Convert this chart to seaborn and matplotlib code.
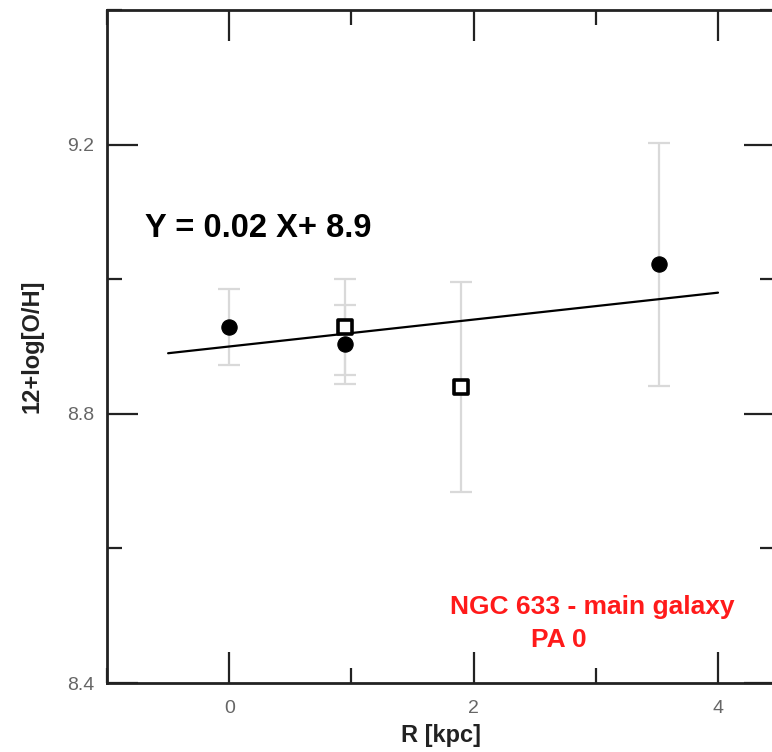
import numpy as np
import pandas as pd
import matplotlib
matplotlib.use("Agg")
import matplotlib.pyplot as plt
import seaborn as sns
from matplotlib.ticker import MultipleLocator

# data
circle_r = [0.0, 0.95, 3.52]
circle_oh = [8.929, 8.903, 9.022]
circle_err = [0.056, 0.058, 0.181]

square_r = [0.95, 1.90]
square_oh = [8.929, 8.840]
square_err = [0.071, 0.156]

fit_slope = 0.02
fit_intercept = 8.9
fit_range = [-0.5, 4.0]

sns.set_theme(style="white")
plt.rcParams["font.family"] = ["Liberation Sans", "DejaVu Sans"]

fig = plt.figure(figsize=(7.72, 7.52), dpi=100)
ax = fig.add_axes([107 / 772, 69 / 752, (775 - 107) / 772, (683 - 10) / 752])

err_color = "#d9d9d9"
ax.errorbar(circle_r, circle_oh, yerr=circle_err, fmt="none", ecolor=err_color,
            elinewidth=1.6, capsize=8, capthick=1.6, zorder=1)
ax.errorbar(square_r, square_oh, yerr=square_err, fmt="none", ecolor=err_color,
            elinewidth=1.6, capsize=8, capthick=1.6, zorder=1)

# fit line
fit_x = np.array(fit_range)
fit_df = pd.DataFrame({"R": fit_x, "OH": fit_slope * fit_x + fit_intercept})
sns.lineplot(data=fit_df, x="R", y="OH", color="black", linewidth=1.6, ax=ax, zorder=2)

circ_df = pd.DataFrame({"R": circle_r, "OH": circle_oh})
sq_df = pd.DataFrame({"R": square_r, "OH": square_oh})
sns.scatterplot(data=circ_df, x="R", y="OH", marker="o", s=120, color="black",
                edgecolor="black", ax=ax, zorder=3)
sns.scatterplot(data=sq_df, x="R", y="OH", marker="s", s=95, color="white",
                edgecolor="black", linewidth=2.6, ax=ax, zorder=4)

ax.set_xlim(-1.0, (775 - 229) / 122.25)
ax.set_ylim(8.4, 9.4)
ax.xaxis.set_major_locator(MultipleLocator(2))
ax.xaxis.set_minor_locator(MultipleLocator(1))
ax.yaxis.set_major_locator(MultipleLocator(0.4))
ax.yaxis.set_minor_locator(MultipleLocator(0.2))
ax.set_yticks([8.4, 8.8, 9.2])
ax.set_yticklabels(["8.4", "8.8", "9.2"])

ax.tick_params(which="both", direction="in", top=True, right=True, bottom=True, left=True,
               labelsize=14, labelcolor="#666666", color="#222222", width=1.6)
ax.tick_params(which="major", length=22)
ax.tick_params(which="minor", length=11)
ax.tick_params(axis="y", which="major", pad=9)
ax.tick_params(axis="x", which="major", pad=12)
for sp in ax.spines.values():
    sp.set_linewidth(2.0)
    sp.set_color("#222222")
    sp.set_visible(True)

ax.set_xlabel("R [kpc]", fontsize=17, fontweight="bold", color="#222222", labelpad=5)
ax.set_ylabel("12+log[O/H]", fontsize=17, fontweight="bold", color="#222222", labelpad=17)

ax.text(-1.0 + (145 - 107) / 122.25, 8.4 + (683 - 229) / 672.5, "Y = 0.02 X+ 8.9",
        fontsize=23.5, fontweight="bold", color="black", ha="left", va="center")
ax.text(2.973, 8.4 + (683 - 607) / 672.5, "NGC 633 - main galaxy",
        fontsize=19, fontweight="bold", color="#ff1a1a", ha="center", va="center")
ax.text(2.70, 8.4 + (683 - 640) / 672.5, "PA 0",
        fontsize=19, fontweight="bold", color="#ff1a1a", ha="center", va="center")

fig.savefig("out.png", dpi=100)
